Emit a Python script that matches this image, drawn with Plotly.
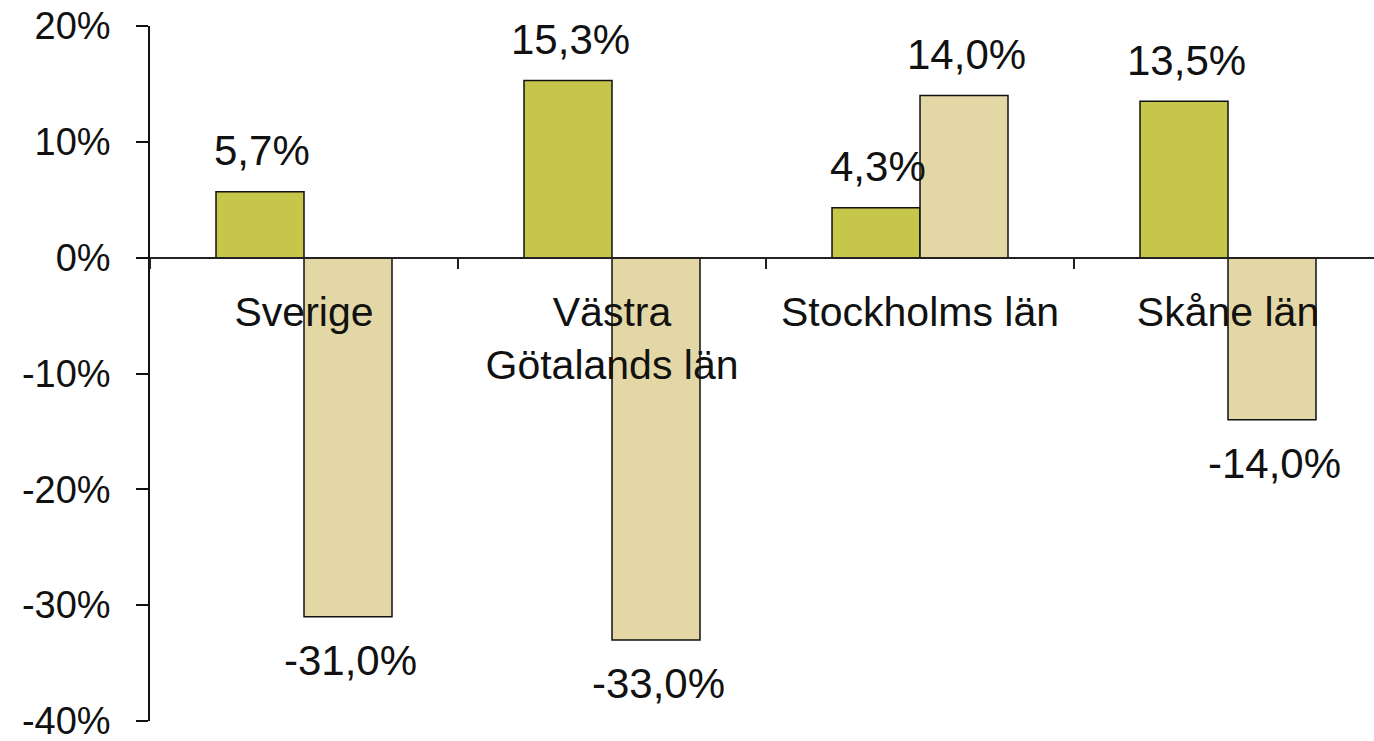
import plotly.graph_objects as go

categories = ["Sverige", "Västra<br>Götalands län", "Stockholms län", "Skåne län"]
series_a = [5.7, 15.3, 4.3, 13.5]
series_b = [-31.0, -33.0, 14.0, -14.0]
tick_vals = [-40, -30, -20, -10, 0, 10, 20]
tick_text = ["-40%", "-30%", "-20%", "-10%", "0%", "10%", "20%"]

col_a = "#C5C64A"
col_b = "#E3D8A5"
FONT = "Liberation Sans, Arial, Helvetica, sans-serif"

fig = go.Figure()
fig.add_trace(go.Bar(x=categories, y=series_a, name="Serie A",
                     marker=dict(color=col_a, line=dict(color="#111111", width=1.5))))
fig.add_trace(go.Bar(x=categories, y=series_b, name="Serie B",
                     marker=dict(color=col_b, line=dict(color="#111111", width=1.5))))

def fmt(v):
    return f"{v:.1f}".replace(".", ",") + "%"

annotations = []
for cat, va, vb in zip(categories, series_a, series_b):
    for v, xs in ((va, -44), (vb, 44)):
        annotations.append(dict(
            x=cat, y=v, xref="x", yref="y", text=fmt(v), showarrow=False,
            xshift=xs + 2, yshift=41 if v > 0 else -44, yanchor="middle",
            font=dict(family=FONT, size=42, color="#111111")))

fig.update_layout(
    width=1374, height=741,
    margin=dict(l=150, r=0, t=26, b=20),
    paper_bgcolor="white", plot_bgcolor="white",
    showlegend=False,
    barmode="group", bargap=0.4286, bargroupgap=0,
    annotations=annotations,
    font=dict(family=FONT, color="#111111"),
)
fig.update_xaxes(
    range=[-0.5, 3.474], anchor="free", position=40/60, automargin=False,
    showline=True, linecolor="#222222", linewidth=1.5,
    ticks="outside", ticklen=11, tickwidth=1.5, tickcolor="#222222",
    tickson="boundaries", showgrid=False, zeroline=False,
    tickfont=dict(family=FONT, size=41, color="#111111"),
    ticklabelstandoff=18,
)
fig.update_yaxes(
    range=[-40, 20], tickmode="array", tickvals=tick_vals, ticktext=tick_text,
    automargin=False,
    showline=True, linecolor="#111111", linewidth=1.5,
    ticks="outside", ticklen=12, tickwidth=1.5, tickcolor="#111111",
    showgrid=False, zeroline=False, ticklabeloverflow="allow",
    tickfont=dict(family=FONT, size=38, color="#111111"),
    ticklabelstandoff=18,
)

fig.write_html("out.html", config={"displayModeBar": False},
               post_script="document.body.style.margin='0';")
